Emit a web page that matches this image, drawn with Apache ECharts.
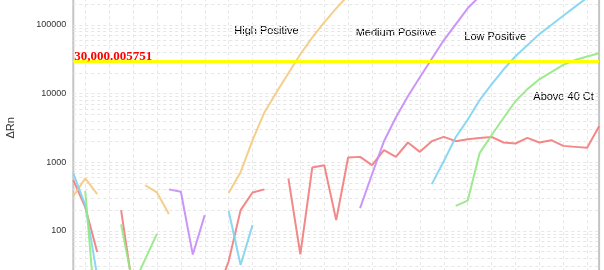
<!DOCTYPE html>
<html>
<head>
<meta charset="utf-8">
<script src="https://cdn.jsdelivr.net/npm/echarts@6/dist/echarts.min.js"></script>
<style>
html,body{margin:0;padding:0;background:#fff;}
#chart{width:604px;height:270px;}
</style>
</head>
<body>
<div id="chart"></div>
<script>
// Cycle numbers (x axis categories)
var cycles = [];
for (var i = 1; i <= 45; i++) cycles.push(String(i));

// ΔRn values per cycle (null = no positive value, gap in log plot)
var highPositive = [320, 580, 342, null, null, null, 462, 362, 175, null, null, null, null, 354, 715, 2090, 5350, 10450, 19760, 37350, 66000, 109000, 174000, 268000, 380000, 480000, 560000, 620000, 660000, 690000, 710000, 725000, 735000, 742000, 748000, 752000, 756000, 759000, 761000, 763000, 765000, 766000, 767000, 768000, 769000];
var mediumPositive = [null, null, null, null, null, null, null, null, 401, 370, 45, 169, null, null, null, null, null, null, null, null, null, null, null, null, 214, 667, 2020, 4520, 9140, 17270, 32100, 59700, 102000, 174600, 261000, 350000, 430000, 490000, 540000, 575000, 600000, 620000, 635000, 645000, 652000];
var lowPositive = [685, 237, 22, null, null, null, null, null, null, null, null, null, null, 194, 31.7, 121, null, null, null, null, null, null, null, null, null, null, null, null, null, null, 478, 1033, 2310, 4140, 8000, 13560, 22400, 34900, 50500, 73400, 100000, 136000, 184700, 249000, 320000];
var above40Ct = [null, 382, 3, null, 124, 16, 38, 90, null, null, null, null, null, null, null, null, null, null, null, null, null, null, null, null, null, null, null, null, null, null, null, null, 231, 275, 1352, 2470, 4400, 7730, 11600, 16100, 20500, 26200, 30800, 34600, 38600];
var negative = [547, 221, 49, null, 200, 13.4, null, null, null, null, null, null, 12, 36, 200, 362, 401, null, 579, 45.3, 837, 904, 143, 1170, 1194, 904, 1495, 1194, 1935, 1413, 2023, 2335, 2023, 2162, 2258, 2335, 1935, 1871, 2258, 1935, 2090, 1727, 1670, 1616, 3330];

var threshold = 30000.005751;
var yTicks = [10, 100, 1000, 10000, 100000, 1000000];
var annotations = ['High Positive', 'Medium Positive', 'Low Positive', 'Above 40 Ct'];

var gridDash = [3, 3];
var gridColor = '#e6e6e6';

function lineSeries(name, data, color) {
  return {
    name: name, type: 'line', data: data, showSymbol: false, symbol: 'none',
    connectNulls: false, clip: true,
    lineStyle: { color: color, width: 2, opacity: 0.9 },
    itemStyle: { color: color },
    emphasis: { disabled: true }, silent: true
  };
}

var chart = echarts.init(document.getElementById('chart'), null, { renderer: 'canvas' });

var textStyleBase = { fontFamily: '"Liberation Sans", Arial, sans-serif', fontSize: 11, fill: '#000' };
function ann(i, x, y) {
  return { type: 'text', x: x, y: y, silent: true,
    style: Object.assign({ text: annotations[i], verticalAlign: 'middle', align: 'left' }, textStyleBase) };
}

chart.setOption({
  animation: false,
  backgroundColor: '#fff',
  grid: {
    left: 73.3, right: 4.9, top: -43.7, bottom: -29.4,
    containLabel: false, outerBoundsMode: 'none',
    show: true, borderColor: '#c4c4c4', borderWidth: 2, backgroundColor: 'transparent'
  },
  xAxis: {
    type: 'category', data: cycles, boundaryGap: false,
    axisLine: { show: false }, axisTick: { show: false }, axisLabel: { show: false },
    splitLine: { show: true, interval: function (idx) { return idx % 2 === 1; },
      lineStyle: { color: gridColor, type: gridDash, width: 1 } }
  },
  yAxis: {
    type: 'log', logBase: 10, min: yTicks[0], max: yTicks[yTicks.length - 1],
    name: 'ΔRn', nameLocation: 'middle', nameGap: 57,
    nameTextStyle: { color: '#333', fontSize: 11, fontFamily: '"Liberation Sans", Arial, sans-serif' },
    axisLine: { show: false }, axisTick: { show: false },
    axisLabel: { color: '#333', fontSize: 9, margin: 7, fontFamily: '"Liberation Sans", Arial, sans-serif',
      formatter: function (v) { return String(Math.round(v)); } },
    splitLine: { show: true, lineStyle: { color: gridColor, type: gridDash, width: 1 } },
    minorTick: { show: false, splitNumber: 9 },
    minorSplitLine: { show: true, lineStyle: { color: gridColor, type: gridDash, width: 1 } }
  },
  series: [
    lineSeries('Negative', negative, '#f27b7b'),
    lineSeries('High Positive', highPositive, '#f5c97f'),
    lineSeries('Medium Positive', mediumPositive, '#c58bf6'),
    lineSeries('Low Positive', lowPositive, '#7fd3f1'),
    lineSeries('Above 40 Ct', above40Ct, '#92e883'),
    {
      name: 'Threshold', type: 'line', data: [], z: 10, silent: true,
      markLine: {
        silent: true, symbol: ['none', 'none'], animation: false,
        lineStyle: { color: '#ffff00', width: 3, type: 'solid' },
        label: {
          show: true, position: 'insideStartTop', distance: [1, -2],
          formatter: threshold.toLocaleString('en-US', { maximumFractionDigits: 6 }),
          color: '#ff0000', fontWeight: 'bold', fontSize: 13,
          fontFamily: '"Liberation Serif", "Times New Roman", serif'
        },
        emphasis: { disabled: true },
        data: [{ yAxis: threshold }]
      }
    }
  ],
  graphic: [
    ann(0, 234.3, 30.8),
    ann(1, 355.7, 33.2),
    ann(2, 464.3, 36.5),
    ann(3, 533.3, 96.5)
  ]
});
</script>
</body>
</html>
